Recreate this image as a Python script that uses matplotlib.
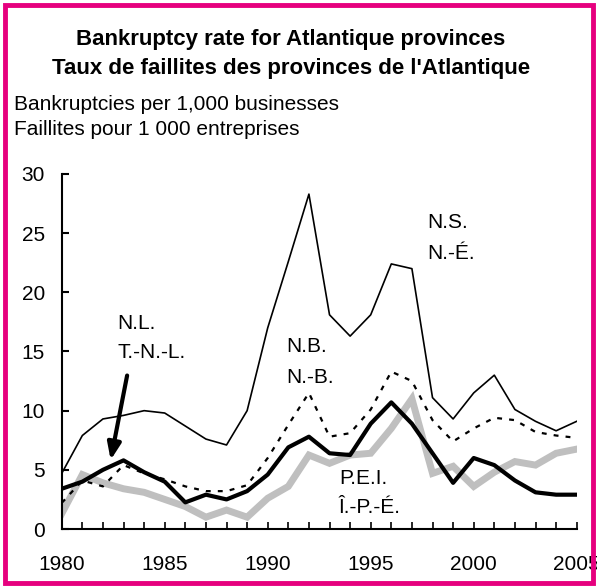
import matplotlib
matplotlib.use("Agg")
import matplotlib.pyplot as plt
from matplotlib.patches import Rectangle

plt.rcParams["font.family"] = ["Liberation Sans", "DejaVu Sans"]

years = list(range(1980, 2006))
ns = [4.7, 7.9, 9.3, 9.6, 10.0, 9.8, 8.7, 7.6, 7.1, 10.0,
      17.0, 22.6, 28.3, 18.1, 16.3, 18.1, 22.4, 22.0, 11.1, 9.3,
      11.5, 13.0, 10.1, 9.1, 8.3, 9.1]
nb = [2.2, 4.1, 3.6, 5.4, 4.7, 4.2, 3.6, 3.2, 3.2, 3.7,
      6.0, 8.8, 11.5, 7.8, 8.1, 10.1, 13.3, 12.5, 9.2, 7.4,
      8.5, 9.4, 9.2, 8.2, 7.9, 7.7]
nl = [3.4, 4.0, 5.0, 5.8, 4.8, 4.0, 2.25, 2.9, 2.5, 3.2,
      4.6, 6.9, 7.8, 6.4, 6.25, 8.9, 10.7, 8.9, 6.4, 3.9,
      6.0, 5.4, 4.1, 3.1, 2.9, 2.9]
pei = [1.3, 4.6, 3.9, 3.4, 3.1, 2.5, 1.9, 1.0, 1.6, 1.0,
       2.6, 3.6, 6.25, 5.55, 6.25, 6.4, 8.5, 11.0, 4.7, 5.3,
       3.6, 4.8, 5.7, 5.4, 6.4, 6.75]

fig = plt.figure(figsize=(5.97, 5.87), dpi=100)
ax = fig.add_axes([0.1034, 0.0988, 0.8626, 0.6048])

ax.plot(years, pei, color="#bfbfbf", lw=5, solid_joinstyle="miter")
ax.plot(years, nb, color="black", lw=1.6, ls=(0, (2.2, 3.2)))
ax.plot(years, nl, color="black", lw=3.0)
ax.plot(years, ns, color="black", lw=1.2)

ax.set_xlim(1980, 2005)
ax.set_ylim(0, 30)
ax.set_yticks([0, 5, 10, 15, 20, 25, 30])
ax.set_xticks([1980, 1985, 1990, 1995, 2000, 2005])
ax.set_xticks(years, minor=True)
for s in ["top", "right"]:
    ax.spines[s].set_visible(False)
ax.spines["left"].set_linewidth(1.5)
ax.spines["bottom"].set_linewidth(1.5)
ax.tick_params(axis="y", direction="in", length=5, width=1.5, pad=12, labelsize=15)
ax.tick_params(axis="x", which="both", direction="in", length=5, width=1.2,
               pad=19, labelsize=15)

fs = 15
ax.text(1997.75, 25.9, "N.S.", fontsize=fs, va="center")
ax.text(1997.75, 23.3, "N.-É.", fontsize=fs, va="center")
ax.text(1990.9, 15.4, "N.B.", fontsize=fs, va="center")
ax.text(1990.9, 12.8, "N.-B.", fontsize=fs, va="center")
ax.text(1982.7, 17.4, "N.L.", fontsize=fs, va="center")
ax.text(1982.7, 14.9, "T.-N.-L.", fontsize=fs, va="center")
ax.text(1993.45, 4.3, "P.E.I.", fontsize=fs, va="center")
ax.text(1993.45, 1.8, "Î.-P.-É.", fontsize=fs, va="center")
ax.annotate("", xy=(1982.35, 5.6), xytext=(1983.2, 13.2),
            arrowprops=dict(arrowstyle="-|>,head_length=1.0,head_width=0.4",
                            color="black", lw=3))

fig.text(0.487, 0.933, "Bankruptcy rate for Atlantique provinces",
         fontsize=16, fontweight="bold", ha="center", va="center")
fig.text(0.487, 0.884, "Taux de faillites des provinces de l'Atlantique",
         fontsize=16, fontweight="bold", ha="center", va="center")
fig.text(0.023, 0.822, "Bankruptcies per 1,000 businesses", fontsize=15, va="center")
fig.text(0.023, 0.779, "Faillites pour 1 000 entreprises", fontsize=15, va="center")

fig.patches.append(Rectangle((0.008, 0.007), 0.985, 0.985, transform=fig.transFigure,
                             fill=False, edgecolor="#e6007e", lw=3.5))

fig.savefig("out.png", dpi=100)
